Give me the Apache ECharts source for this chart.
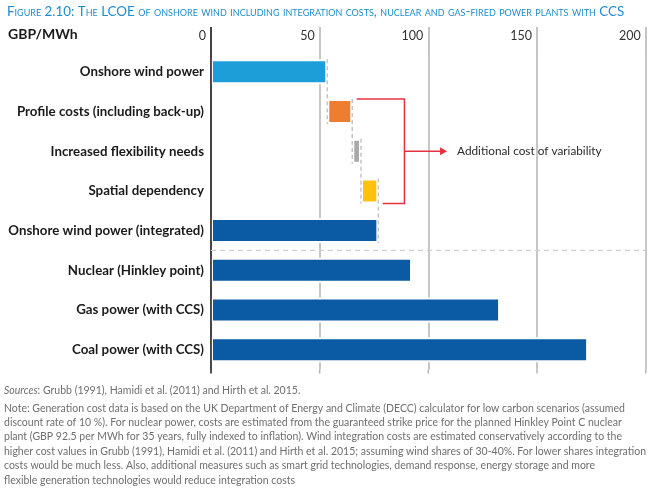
<!DOCTYPE html>
<html>
<head>
<meta charset="utf-8">
<script src="https://cdn.jsdelivr.net/npm/echarts@6/dist/echarts.min.js"></script>
<style>
html,body{margin:0;padding:0;background:#fff;}
#chart{width:660px;height:492px;}
</style>
</head>
<body>
<div id="chart"></div>
<script>
// ---- data (GBP/MWh) ----
const categories = [
  'Onshore wind power',
  'Profile costs (including back-up)',
  'Increased flexibility needs',
  'Spatial dependency',
  'Onshore wind power (integrated)',
  'Nuclear (Hinkley point)',
  'Gas power (with CCS)',
  'Coal power (with CCS)'
];
// visible bar length of each row
const barValues = [53.5, 11.5, 4, 8, 77, 92.5, 133, 173.5];
// where each bar starts (waterfall offsets for the integration-cost rows)
const barStarts = [0, 53.5, 65, 69, 0, 0, 0, 0];
const xTicks = [0, 50, 100, 150, 200];
const annotationText = 'Additional cost of variability';

const barColors = ['#1e9ed9', '#ef7d31', '#a9a9a9', '#fec10d', '#0a5ba4', '#0a5ba4', '#0a5ba4', '#0a5ba4'];
const BAR_PX = 25;
const FONT = 'Lato, "Open Sans", sans-serif';

const chart = echarts.init(document.getElementById('chart'), null, {renderer: 'canvas'});

function overlay(params, api) {
  const cs = params.coordSys;
  const half = BAR_PX / 2;
  const cy = i => api.coord([0, i])[1];
  const cx = v => api.coord([v, 0])[0];
  const children = [];
  // black zero line extending above/below the plot
  children.push({type: 'line', shape: {x1: cx(0), y1: cs.y - 25, x2: cx(0), y2: cs.y + cs.height + 4},
    style: {stroke: '#1a1a1a', lineWidth: 1.5}});
  // bottom tick extensions
  xTicks.forEach(t => {
    if (t === 0) return;
    children.push({type: 'line', shape: {x1: cx(t), y1: cs.y + cs.height, x2: cx(t), y2: cs.y + cs.height + 4},
      style: {stroke: '#b3b3b3', lineWidth: 1.5}});
  });
  // dashed separator between integrated wind and conventional plants
  const sepY = (cy(4) + cy(5)) / 2;
  children.push({type: 'line', shape: {x1: cx(0), y1: sepY, x2: cx(xTicks[xTicks.length - 1]), y2: sepY},
    style: {stroke: '#cfcfcf', lineWidth: 1.2, lineDash: [5, 4]}});
  // waterfall connectors
  for (let i = 0; i < 4; i++) {
    const v = barStarts[i] + barValues[i];
    children.push({type: 'line', shape: {x1: cx(v), y1: cy(i) - half, x2: cx(v), y2: cy(i + 1) + half},
      style: {stroke: '#c4c4c4', lineWidth: 1.5, lineDash: [4, 3]}});
  }
  // bracket + arrow
  const red = '#e6323e';
  const topY = cy(1) - half, botY = cy(3) + half, midY = cy(2);
  const spine = cx(89);
  children.push({type: 'polyline', shape: {points: [[cx(67), topY], [spine, topY], [spine, botY], [cx(79), botY]]},
    style: {stroke: red, lineWidth: 1.5, fill: null}});
  const tip = cx(108.6);
  children.push({type: 'line', shape: {x1: spine, y1: midY, x2: tip - 6, y2: midY}, style: {stroke: red, lineWidth: 1.5}});
  children.push({type: 'polygon', shape: {points: [[tip - 7, midY - 4], [tip, midY], [tip - 7, midY + 4]]}, style: {fill: red}});
  children.push({type: 'text', style: {text: annotationText, x: cx(113.2), y: midY, fill: '#2b2b2b',
    font: '11.8px ' + FONT, verticalAlign: 'middle', align: 'left'}});
  return {type: 'group', children: children};
}

const notes = [
  'Note: Generation cost data is based on the UK Department of Energy and Climate (DECC) calculator for low carbon scenarios (assumed',
  'discount rate of 10 %). For nuclear power, costs are estimated from the guaranteed strike price for the planned Hinkley Point C nuclear',
  'plant (GBP 92.5 per MWh for 35 years, fully indexed to inflation). Wind integration costs are estimated conservatively according to the',
  'higher cost values in Grubb (1991), Hamidi et al. (2011) and Hirth et al. 2015; assuming wind shares of 30-40%. For lower shares integration',
  'costs would be much less. Also, additional measures such as smart grid technologies, demand response, energy storage and more',
  'flexible generation technologies would reduce integration costs'
];

const option = {
  animation: false,
  backgroundColor: '#ffffff',
  title: {
    text: 'Figure 2.10: The LCOE of onshore wind including integration costs, nuclear and gas-fired power plants with CCS',
    left: 2, top: 0,
    textStyle: {color: '#1f8dcb', fontSize: 13.4, fontWeight: 'normal', fontStyle: 'small-caps', fontFamily: FONT}
  },
  grid: {left: 211, right: 14.3, top: 52, bottom: 122.5, containLabel: false},
  xAxis: [{
    type: 'value', position: 'top', min: 0, max: 200, interval: 50,
    axisLine: {show: false},
    axisTick: {show: true, length: 25, lineStyle: {color: '#b3b3b3', width: 1.5}},
    splitLine: {show: true, lineStyle: {color: '#b3b3b3', width: 1.5}},
    axisLabel: {align: 'right', verticalAlign: 'middle', margin: 16, padding: [0, 5, 0, 0],
      color: '#333', fontSize: 12.5, fontFamily: FONT}
  }],
  yAxis: {
    type: 'category', data: categories, inverse: true,
    axisLine: {show: false}, axisTick: {show: false},
    axisLabel: {color: '#1a1a1a', fontWeight: 'bold', fontSize: 13.3, fontFamily: FONT, margin: 7}
  },
  series: [
    {type: 'bar', stack: 'w', data: barStarts, itemStyle: {color: 'transparent'}, barWidth: BAR_PX, z: 2, silent: true},
    {type: 'bar', stack: 'w', barWidth: BAR_PX, z: 2,
      data: barValues.map((v, i) => ({value: v, itemStyle: {color: barColors[i]}})),
      itemStyle: {borderColor: '#ffffff', borderWidth: 2}},
    {type: 'custom', renderItem: overlay, data: [[0, 0]], encode: {x: 0, y: 1}, z: 5, silent: true}
  ],
  graphic: [
    {type: 'text', left: 8, top: 27, style: {text: 'GBP/MWh', font: 'bold 14px ' + FONT, fill: '#1a1a1a'}},
    {type: 'text', left: 4, top: 385, style: {
      text: '{i|Sources}: Grubb (1991), Hamidi et al. (2011) and Hirth et al. 2015.',
      font: '10.5px ' + FONT, fill: '#6f6f6f',
      rich: {i: {fontStyle: 'italic', fontSize: 10.5, fontFamily: FONT, fill: '#6f6f6f'}}}},
    {type: 'text', left: 4, top: 401, style: {
      text: notes.join('\n'), font: '10.5px ' + FONT, fill: '#6f6f6f', lineHeight: 14.4}}
  ]
};
chart.setOption(option);
</script>
</body>
</html>
